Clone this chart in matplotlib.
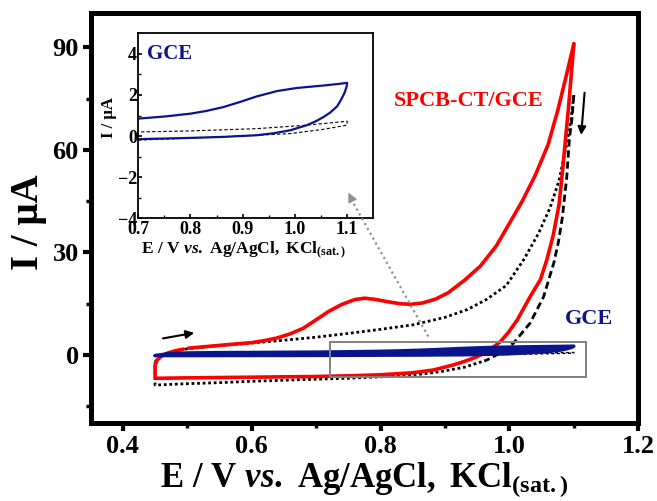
import matplotlib
matplotlib.use('Agg')
import matplotlib.pyplot as plt
from matplotlib.patches import Rectangle

plt.rcParams['font.family'] = 'Liberation Serif'
plt.rcParams['font.weight'] = 'bold'
plt.rcParams['axes.labelweight'] = 'bold'
plt.rcParams['mathtext.fontset'] = 'custom'
plt.rcParams['mathtext.rm'] = 'Liberation Serif:bold'
plt.rcParams['mathtext.it'] = 'Liberation Serif:italic:bold'
plt.rcParams['mathtext.bf'] = 'Liberation Serif:bold'

# SPCB-CT/GCE, forward (anodic) scan
spcb_fwd_E = [0.502, 0.52, 0.55, 0.58, 0.60, 0.62, 0.64, 0.66, 0.68, 0.70, 0.72, 0.74,
              0.76, 0.775, 0.79, 0.81, 0.83, 0.846, 0.865, 0.885, 0.905, 0.93, 0.955,
              0.98, 1.0, 1.02, 1.04, 1.06, 1.075, 1.088, 1.1]
spcb_fwd_I = [2.0, 2.3, 2.8, 3.3, 3.6, 4.2, 5.0, 6.2, 7.8, 10.3, 12.8, 14.8,
              16.2, 16.6, 16.3, 15.6, 15.0, 14.8, 15.2, 16.3, 18.2, 21.8, 26.0,
              32.0, 38.5, 45.0, 52.5, 61.5, 71.5, 81.5, 91.0]
# SPCB-CT/GCE, reverse scan
spcb_rev_E = [1.1, 1.096, 1.092, 1.087, 1.082, 1.077, 1.068, 1.058, 1.048, 1.032, 1.012,
              0.998, 0.986, 0.97, 0.95, 0.93, 0.913, 0.882, 0.85, 0.8, 0.75, 0.7, 0.65,
              0.6, 0.55, 0.5, 0.46, 0.452, 0.45, 0.45, 0.453, 0.46, 0.47, 0.483, 0.494]
spcb_rev_I = [91, 82, 73, 63, 53, 44, 35, 27.8, 22, 17, 10.2,
              6.5, 3.9, 1.5, -0.5, -1.9, -2.9, -4.4, -5.2, -5.8, -6.1, -6.3, -6.4,
              -6.5, -6.6, -6.7, -6.8, -6.8, -6.5, -3.0, -1.5, -0.3, 0.6, 1.3, 1.7]

# second CV (black), forward scan dotted
blk_fwd_E = [0.45, 0.455, 0.465, 0.48, 0.5, 0.53, 0.56, 0.6, 0.65, 0.7, 0.75, 0.8, 0.85,
             0.9, 0.935, 0.965, 0.995, 1.022, 1.045, 1.063, 1.077, 1.087, 1.095, 1.1]
blk_fwd_I = [-2.0, -1.0, 0.2, 1.2, 1.8, 2.4, 2.9, 3.5, 4.3, 5.2, 6.3, 7.5, 8.8,
             11.0, 13.3, 16.3, 20.3, 27.8, 35.5, 43.0, 51.0, 60.0, 68.0, 76.0]
# reverse scan, dashed upper part
blk_rev_E = [1.1, 1.097, 1.093, 1.089, 1.082, 1.076, 1.069, 1.053, 1.032, 1.006, 0.985, 0.965]
blk_rev_I = [76, 69, 63, 52, 40, 33, 27, 17, 9.3, 3.4, 0.5, -1.5]
# reverse scan, dotted lower part
blk_low_E = [0.965, 0.93, 0.893, 0.85, 0.8, 0.75, 0.7, 0.65, 0.6, 0.55, 0.5, 0.45, 0.45]
blk_low_I = [-1.5, -3.6, -4.9, -5.9, -6.4, -6.8, -7.1, -7.4, -7.7, -8.1, -8.4, -8.8, -2.0]

# bare GCE
gce_E = [0.45, 0.47, 0.5, 0.55, 0.6, 0.65, 0.7, 0.75, 0.8, 0.83, 0.863, 0.895, 0.927,
         0.966, 1.004, 1.055, 1.085, 1.1, 1.099, 1.095, 1.088, 1.081, 1.068, 1.055, 1.04,
         1.023, 0.991, 0.96, 0.927, 0.863, 0.799, 0.7, 0.6, 0.5, 0.45]
gce_I = [-0.2, 0.4, 0.6, 0.7, 0.75, 0.8, 0.85, 0.95, 1.09, 1.22, 1.41, 1.66, 1.93,
         2.19, 2.34, 2.46, 2.54, 2.59, 2.4, 2.1, 1.75, 1.45, 1.15, 0.93, 0.72,
         0.53, 0.28, 0.14, 0.04, -0.04, -0.09, -0.15, -0.18, -0.2, -0.2]

# blank at GCE (thin dashed)
blank_E = [0.45, 0.7, 0.8, 0.927, 1.023, 1.1, 1.1, 1.055, 0.991, 0.863, 0.7, 0.45]
blank_I = [0.15, 0.2, 0.25, 0.36, 0.53, 0.72, 0.53, 0.33, 0.12, -0.04, -0.2, -0.25]

red = '#ff0000'
navy = '#0a148c'
xlab = r'$\mathrm{E\ /\ V\ }\mathit{vs.}\mathrm{\ Ag/AgCl,\ KCl}_{\mathrm{(sat.)}}$'

fig = plt.figure(figsize=(6.57, 5.01), dpi=100)
ax = fig.add_axes([0.138, 0.155, 0.8335, 0.819])

ax.plot(blank_E, blank_I, color='k', lw=1.0, ls=(0, (2, 2)), zorder=2)
ax.plot(blk_fwd_E, blk_fwd_I, color='k', lw=2.0, ls=(0, (1, 1)), zorder=2)
ax.plot(blk_rev_E, blk_rev_I, color='k', lw=2.0, ls=(0, (2.6, 1.4)), zorder=2)
ax.plot(blk_low_E, blk_low_I, color='k', lw=2.0, ls=(0, (1, 1)), zorder=2)
ax.plot(spcb_fwd_E, spcb_fwd_I, color=red, lw=2.6, solid_capstyle='round', zorder=3)
ax.plot(spcb_rev_E, spcb_rev_I, color=red, lw=2.6, solid_capstyle='round', zorder=3)
# GCE loop is very flat at this scale: fill it so it reads as one band
ax.fill(gce_E, gce_I, color=navy, lw=0, zorder=4)
ax.plot(gce_E, gce_I, color=navy, lw=2.4, solid_capstyle='round',
        solid_joinstyle='round', zorder=4)

ax.add_patch(Rectangle((0.721, -6.5), 0.398, 10.4, fill=False, ec='#808080', lw=1.4, zorder=4))

# scan direction arrows
ax.annotate('', xy=(0.515, 6.6), xytext=(0.458, 4.7),
            arrowprops=dict(arrowstyle='-|>', color='k', lw=1.5, mutation_scale=12))
ax.annotate('', xy=(1.111, 63.5), xytext=(1.117, 77.5),
            arrowprops=dict(arrowstyle='-|>', color='k', lw=1.5, mutation_scale=12))

# zoom arrow to inset
ax.plot([0.874, 0.756], [5.4, 45.0], color='#909090', lw=1.6, ls=(0, (1, 1.5)), zorder=6)
ax.annotate('', xy=(0.748, 48.2), xytext=(0.757, 44.8), zorder=7,
            arrowprops=dict(arrowstyle='-|>', color='#909090', lw=1.0, mutation_scale=14))

ax.text(0.9375, 74.3, 'SPCB-CT/GCE', color=red, fontsize=16, fontweight='bold',
        ha='center', va='center')
ax.text(1.123, 10.5, 'GCE', color=navy, fontsize=16, fontweight='bold',
        ha='center', va='center')

ax.set_xlim(0.35, 1.2)
ax.set_ylim(-20, 100)
ax.set_xticks([0.4, 0.6, 0.8, 1.0, 1.2])
ax.set_xticks([0.5, 0.7, 0.9, 1.1], minor=True)
ax.set_yticks([0, 30, 60, 90])
ax.set_yticks([-15, 15, 45, 75], minor=True)
ax.set_xticklabels(['0.4', '0.6', '0.8', '1.0', '1.2'])
ax.tick_params(which='major', direction='out', length=5.5, width=3, labelsize=19, pad=3)
ax.tick_params(which='minor', direction='out', length=3.5, width=2.5)
for s in ax.spines.values():
    s.set_linewidth(3.6)

ax.set_xlabel(xlab, fontsize=25)
ax.set_ylabel('I / µA', fontsize=28, fontweight='bold')
ax.xaxis.set_label_coords(0.5, -0.09)
ax.yaxis.set_label_coords(-0.08, 0.49)

# inset
ins = ax.inset_axes([0.0869, 0.4998, 0.4291, 0.4508])
ins.set_facecolor('white')
ins.plot(blank_E, blank_I, color='k', lw=0.8, ls=(0, (3, 2)))
ins.plot(gce_E, gce_I, color=navy, lw=1.6)
ins.set_xlim(0.7, 1.15)
ins.set_ylim(-4, 5)
ins.set_xticks([0.7, 0.8, 0.9, 1.0, 1.1])
ins.set_xticks([0.75, 0.85, 0.95, 1.05], minor=True)
ins.set_yticks([-4, -2, 0, 2, 4])
ins.set_yticks([-3, -1, 1, 3], minor=True)
ins.set_xticklabels(['0.7', '0.8', '0.9', '1.0', '1.1'])
ins.tick_params(which='major', direction='in', length=3, width=1.2, labelsize=13, pad=1.0)
ins.tick_params(axis='x', which='major', pad=2.0)
ins.tick_params(which='minor', direction='in', length=2, width=1.0)
for s in ins.spines.values():
    s.set_linewidth(1.3)
ins.text(0.717, 3.97, 'GCE', color=navy, fontsize=15, fontweight='bold', ha='left', va='center')
ins.set_xlabel(xlab, fontsize=12.5)
ins.set_ylabel('I / µA', fontsize=12, fontweight='bold')
ins.xaxis.set_label_coords(0.446, -0.118)
ins.yaxis.set_label_coords(-0.09, 0.542)

fig.savefig('out.png', dpi=100)
